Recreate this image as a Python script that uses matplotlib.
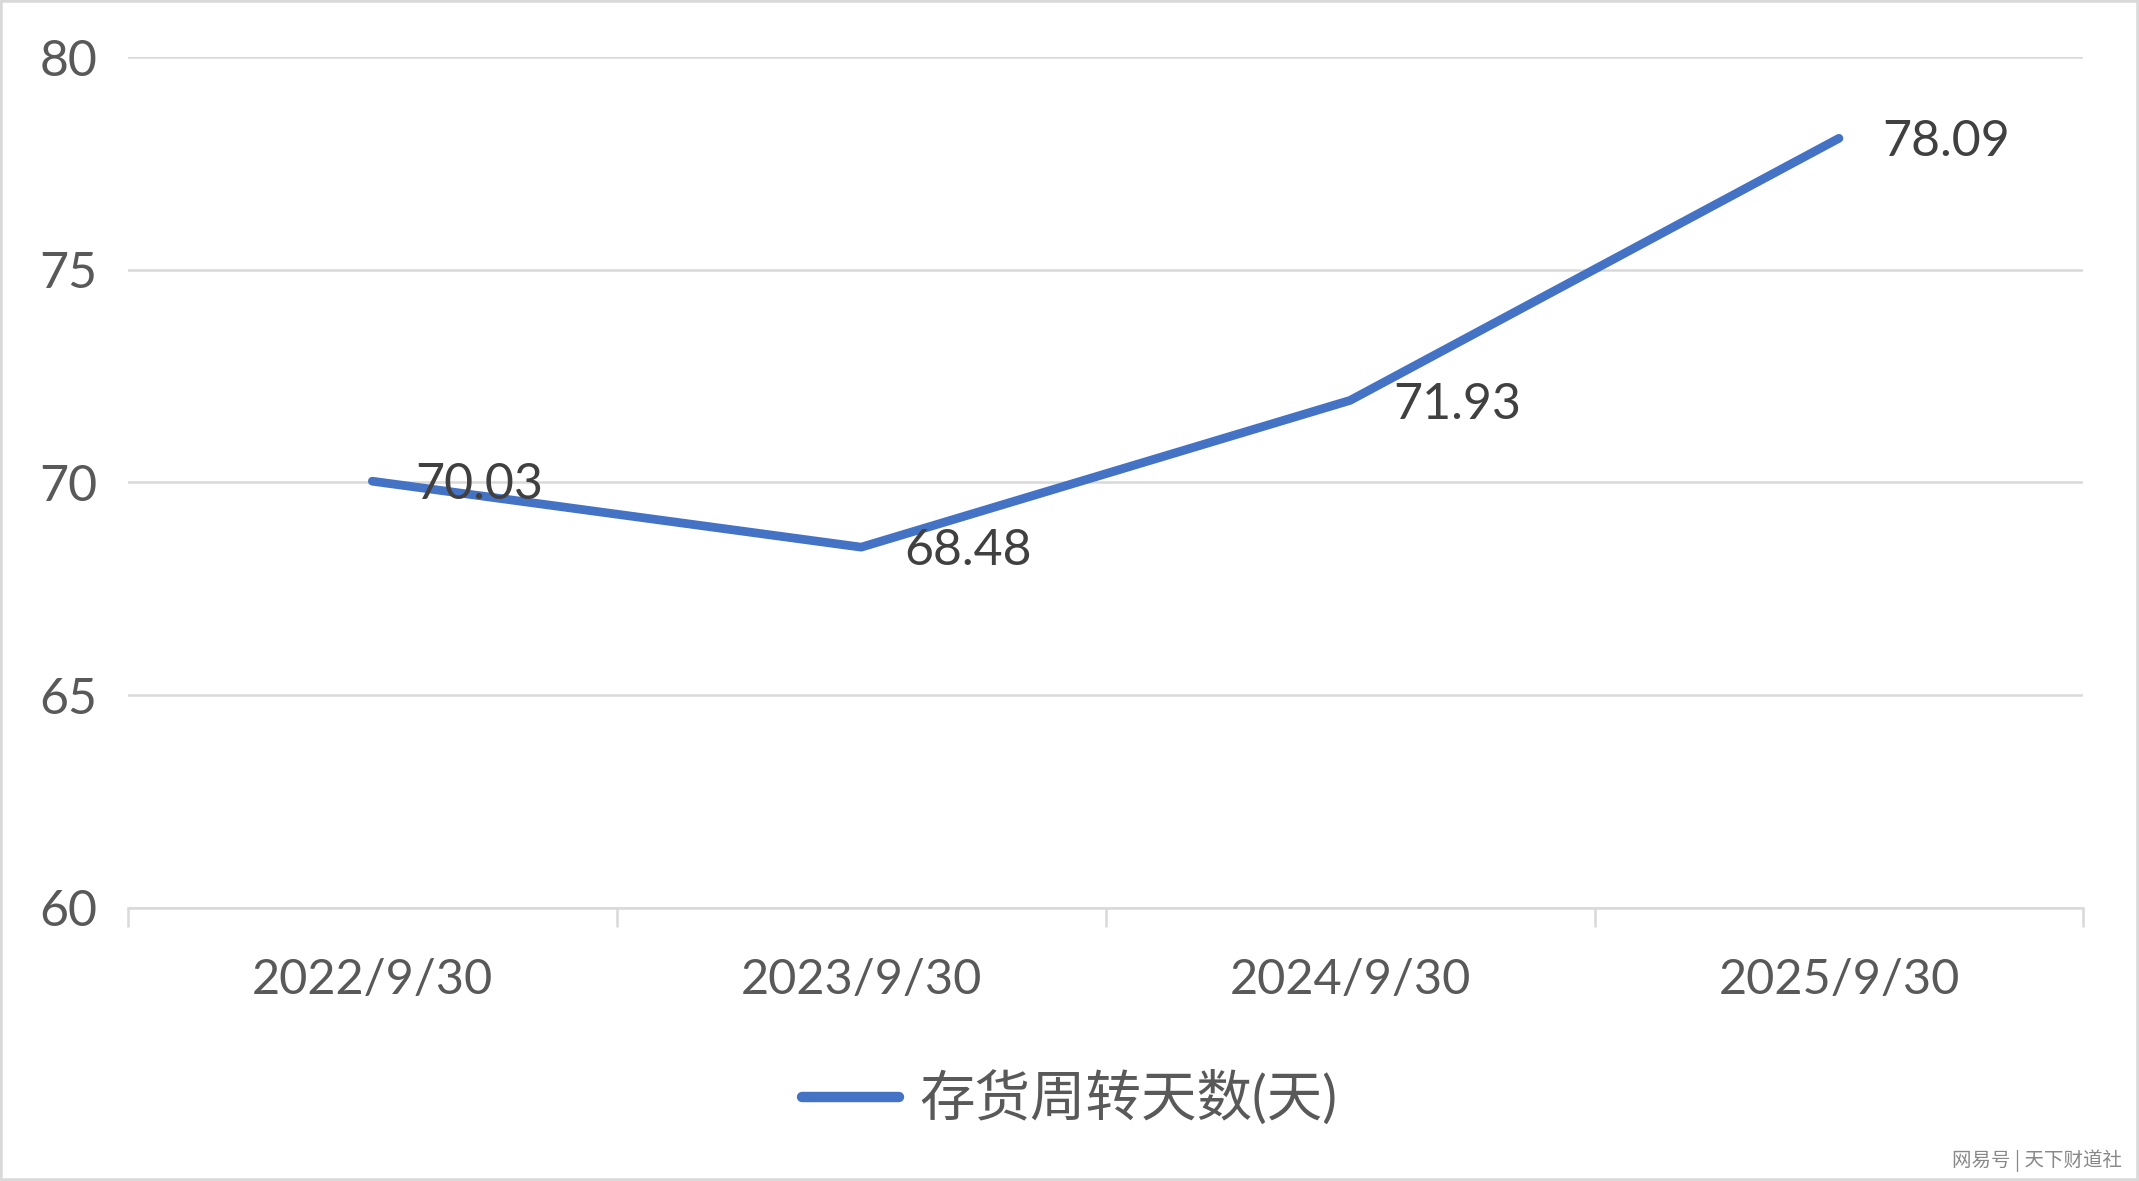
import matplotlib
matplotlib.use('Agg')
import matplotlib.pyplot as plt
from matplotlib.patches import Rectangle

plt.rcParams['font.family'] = ['Lato', 'Noto Sans CJK SC', 'DejaVu Sans']

dates = ['2022/9/30', '2023/9/30', '2024/9/30', '2025/9/30']
days = [70.03, 68.48, 71.93, 78.09]
series_name = '存货周转天数(天)'

fig = plt.figure(figsize=(21.39, 11.81), dpi=100)
ax = fig.add_axes([0.0598, 0.2312, 0.9142, 0.7205])

x = list(range(len(dates)))
line, = ax.plot(x, days, color='#4472C4', lw=6.3, solid_capstyle='round',
                solid_joinstyle='round', label=series_name, zorder=3)
for xi, v in zip(x, days):
    ax.annotate(f'{v:.2f}', (xi, v), xytext=(31, -3), textcoords='offset points',
                ha='left', va='center', fontsize=36, color='#404040', zorder=4)

ax.set_xlim(-0.5, len(dates) - 0.5)
ax.set_ylim(60, 80)
ax.set_yticks([60, 65, 70, 75, 80])
ax.yaxis.grid(True, color='#D9D9D9', lw=1.8)
ax.set_axisbelow(True)
for s in ['top', 'right', 'left']:
    ax.spines[s].set_visible(False)
ax.spines['bottom'].set_color('#D9D9D9')
ax.spines['bottom'].set_linewidth(1.8)

ax.set_xticks([i - 0.5 for i in range(len(dates) + 1)])
ax.set_xticklabels([])
ax.tick_params(axis='x', length=14, width=1.8, color='#D9D9D9')
ax.set_xticks(x, minor=True)
ax.set_xticklabels(dates, minor=True)
ax.tick_params(axis='x', which='minor', length=0, pad=36, labelsize=35,
               labelcolor='#595959')
ax.tick_params(axis='y', length=0, pad=22, labelsize=36, labelcolor='#595959')

leg = fig.legend(handles=[line], labels=[series_name], loc='center',
                 bbox_to_anchor=(0.5, 0.07), frameon=False, fontsize=40,
                 handlelength=1.75, handletextpad=0.35, labelcolor='#595959')
leg.get_lines()[0].set_linewidth(7.5)

fig.patches.append(Rectangle((0, 0), 1, 1, transform=fig.transFigure,
                             fill=False, edgecolor='#D9D9D9', lw=4))
fig.text(0.992, 0.017, '网易号 | 天下财道社', ha='right', va='center',
         fontsize=14, color='#888888', family=['Noto Sans CJK SC', 'DejaVu Sans'])

fig.savefig('out.png', dpi=100, facecolor='white')
